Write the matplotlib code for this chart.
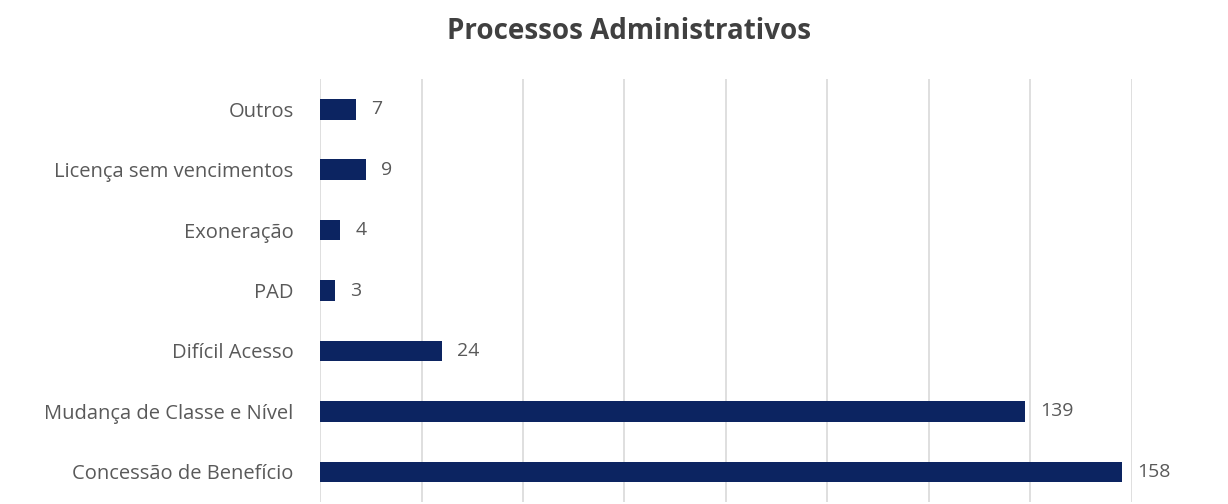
import matplotlib
matplotlib.use("Agg")
import matplotlib.pyplot as plt
from matplotlib.ticker import MultipleLocator

categories = ["Concessão de Benefício", "Mudança de Classe e Nível", "Difícil Acesso",
              "PAD", "Exoneração", "Licença sem vencimentos", "Outros"]
values = [158, 139, 24, 3, 4, 9, 7]

bar_color = "#0c2461"
text_color = "#595959"

plt.rcParams["font.family"] = ["Open Sans", "DejaVu Sans"]

fig = plt.figure(figsize=(12.28, 5.04), dpi=100)
ax = fig.add_axes([0.2606, 0.004, 0.6612, 0.839])

y = range(len(categories))
ax.barh(y, values, height=0.34, color=bar_color, zorder=3)

for yi, v in zip(y, values):
    ax.annotate(str(v), (v, yi), xytext=(11, 0), textcoords="offset points",
                va="center", ha="left", fontsize=14, color=text_color)

ax.set_xlim(0, 160)
ax.set_ylim(-0.5, len(categories) - 0.5)
ax.xaxis.set_major_locator(MultipleLocator(20))
ax.grid(axis="x", color="#d9d9d9", linewidth=1.2, zorder=0)
ax.set_xticklabels([])
ax.tick_params(axis="x", length=0)
ax.tick_params(axis="y", length=0, pad=19, labelsize=14.5, labelcolor=text_color)
ax.set_yticks(list(y))
ax.set_yticklabels(categories)
for s in ax.spines.values():
    s.set_visible(False)

fig.text(0.512, 0.937, "Processos Administrativos", ha="center", va="center",
         fontsize=20, fontweight="bold", color="#404040")

fig.savefig("out.png", dpi=100, facecolor="white")
